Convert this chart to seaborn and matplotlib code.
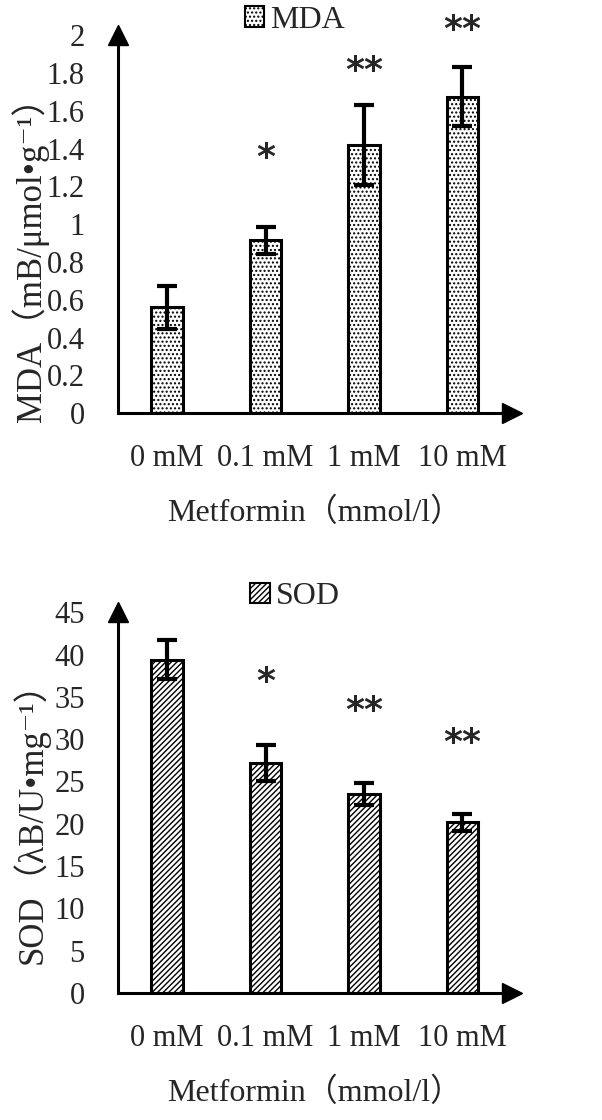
import pandas as pd
import seaborn as sns
import matplotlib.pyplot as plt
from matplotlib.patches import Patch

# data
doses = ["0 mM", "0.1 mM", "1 mM", "10 mM"]
mda_mean = [0.56, 0.915, 1.42, 1.675]
mda_err = [0.115, 0.07, 0.21, 0.155]
mda_sig = ["", "*", "**", "**"]
mda_sig_y = [0, 1.35, 1.81, 2.03]

sod_mean = [39.4, 27.2, 23.5, 20.2]
sod_err = [2.3, 2.1, 1.3, 1.0]
sod_sig = ["", "*", "**", "**"]
sod_sig_y = [0, 36.7, 33.3, 29.6]

sns.set_style("white")
plt.rcParams["font.family"] = ["Liberation Serif", "DejaVu Serif", "Noto Sans CJK SC"]
plt.rcParams["hatch.linewidth"] = 1.0

fig = plt.figure(figsize=(6.02, 11.2), dpi=100)
ax1 = fig.add_axes([0.196, 0.631, 0.654, 0.3375])
ax2 = fig.add_axes([0.196, 0.1134, 0.654, 0.340])


def draw_panel(ax, means, errs, sig, sig_y, ymax, step, hatch, name, ylabel, label_y):
    df = pd.DataFrame({"dose": doses, "value": means})
    sns.barplot(data=df, x="dose", y="value", ax=ax, width=0.32,
                color="white", edgecolor="black", linewidth=2.2,
                errorbar=None, hatch=hatch)
    ax.errorbar(range(len(doses)), means, yerr=errs, fmt="none",
                ecolor="black", elinewidth=3, capsize=7.5, capthick=3)
    for i, s in enumerate(sig):
        if s:
            ax.text(i, sig_y[i], s, ha="center", va="center",
                    fontsize=26, fontweight="bold", family="DejaVu Sans")
    ax.set_xlim(-0.5, 3.5)
    ax.set_ylim(0, ymax)
    ticks = [round(k * step, 2) for k in range(int(round(ymax / step)) + 1)]
    ax.set_yticks(ticks)
    ax.set_yticklabels(["%g" % t for t in ticks])
    ax.tick_params(axis="both", length=0, labelsize=22)
    ax.tick_params(axis="y", pad=24)
    ax.tick_params(axis="x", pad=22)
    for sp in ["top", "right"]:
        ax.spines[sp].set_visible(False)
    for sp in ["left", "bottom"]:
        ax.spines[sp].set_linewidth(2.2)
        ax.spines[sp].set_color("black")
    # arrow heads
    ax.plot(1, 0, ">", color="black", markersize=15,
            transform=ax.transAxes, clip_on=False)
    ax.plot(0, 1, "^", color="black", markersize=15,
            transform=ax.transAxes, clip_on=False)
    ax.set_xlabel("Metformin（mmol/l）", fontsize=23, labelpad=18)
    ax.set_ylabel(ylabel, fontsize=25, va="center")
    ax.yaxis.set_label_coords(-0.222, label_y)
    handle = Patch(facecolor="white", edgecolor="black", hatch=hatch, linewidth=1.5)
    ax.legend([handle], [name], loc="center", bbox_to_anchor=(0.45, 1.04),
              frameon=False, fontsize=23, handlelength=0.6, handleheight=0.6,
              handletextpad=0.2, borderpad=0)


draw_panel(ax1, mda_mean, mda_err, mda_sig, mda_sig_y, 2.0, 0.2, "....", "MDA",
           "MDA（mB/μmol•g⁻¹）", 0.43)
draw_panel(ax2, sod_mean, sod_err, sod_sig, sod_sig_y, 45, 5, "//////", "SOD",
           "SOD（λB/U•mg⁻¹）", 0.47)

fig.savefig("out.png", dpi=100)
